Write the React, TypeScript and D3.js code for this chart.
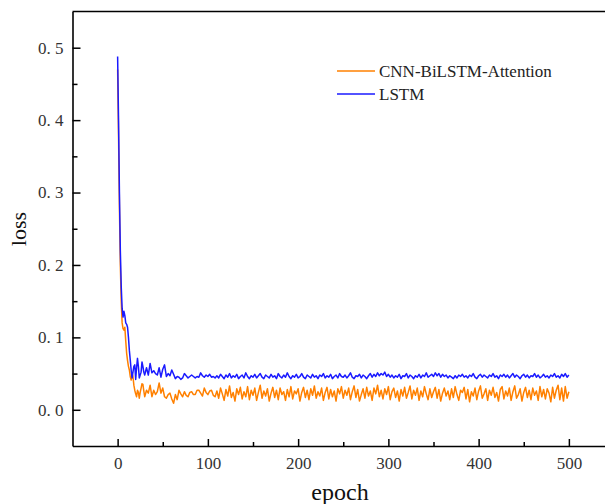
import React, { useEffect, useRef } from 'react';
import * as d3 from 'd3';

// epochs: every epoch for the steep start, every 2nd epoch after that
const epochs = [...d3.range(0, 31), ...d3.range(32, 501, 2)];

const lstmLoss = [
  0.488, 0.40, 0.30, 0.22, 0.17, 0.14, 0.128, 0.136, 0.130, 0.120,
  0.118, 0.114, 0.100, 0.082, 0.069, 0.055, 0.044, 0.052, 0.060, 0.062,
  0.042, 0.058, 0.071, 0.060, 0.044, 0.048, 0.052, 0.066, 0.060, 0.052,
  0.048,
  0.058, 0.048, 0.064, 0.051, 0.054, 0.050, 0.048, 0.058, 0.045, 0.056,
  0.062, 0.046, 0.050, 0.047, 0.055, 0.049, 0.043, 0.046, 0.045, 0.042,
  0.044, 0.050, 0.047, 0.044, 0.046, 0.048, 0.046, 0.044, 0.046, 0.045,
  0.051, 0.047, 0.045, 0.048, 0.046, 0.049, 0.045, 0.046, 0.044,
  0.047, 0.044, 0.049, 0.046, 0.043, 0.048, 0.045, 0.050, 0.044, 0.047,
  0.045, 0.049, 0.043, 0.046, 0.048, 0.044, 0.051, 0.046, 0.043, 0.047,
  0.045, 0.049, 0.044, 0.047, 0.050, 0.045, 0.043, 0.048, 0.046, 0.044,
  0.049, 0.045, 0.047, 0.043, 0.050, 0.046, 0.044, 0.048, 0.045, 0.051,
  0.046, 0.043, 0.047, 0.045, 0.049, 0.044, 0.046, 0.050, 0.045, 0.043,
  0.048, 0.046, 0.044, 0.049, 0.045, 0.047, 0.043, 0.048, 0.046, 0.050,
  0.044, 0.047, 0.045, 0.049, 0.043, 0.046, 0.048, 0.044, 0.050, 0.046,
  0.045, 0.048, 0.044, 0.047, 0.051, 0.045, 0.043, 0.047, 0.046, 0.049,
  0.044, 0.048, 0.046, 0.043, 0.047, 0.050, 0.045, 0.049, 0.046, 0.051,
  0.047, 0.050, 0.048, 0.052, 0.046, 0.049, 0.045, 0.048, 0.044, 0.047,
  0.045, 0.049, 0.043, 0.047, 0.046, 0.050, 0.044, 0.048, 0.046, 0.043,
  0.047, 0.045, 0.049, 0.044, 0.048, 0.046, 0.051, 0.045, 0.047, 0.049,
  0.046, 0.051, 0.047, 0.050, 0.045, 0.049, 0.046, 0.048, 0.044, 0.047,
  0.045, 0.043, 0.047, 0.044, 0.048, 0.046, 0.049, 0.045, 0.047, 0.044,
  0.048, 0.046, 0.050, 0.045, 0.043, 0.047, 0.049, 0.045, 0.048, 0.046,
  0.044, 0.048, 0.046, 0.050, 0.045, 0.047, 0.043, 0.048, 0.046, 0.049,
  0.045, 0.048, 0.044, 0.047, 0.050, 0.045, 0.048, 0.046, 0.043, 0.047,
  0.049, 0.045, 0.048, 0.044, 0.047, 0.046, 0.050, 0.045, 0.048, 0.044,
  0.046, 0.049, 0.045, 0.047, 0.044, 0.048, 0.046, 0.050, 0.045, 0.047,
  0.044, 0.049, 0.046, 0.050, 0.045, 0.048,
];

const cnnLoss = [
  0.470, 0.38, 0.28, 0.20, 0.15, 0.12, 0.112, 0.110, 0.114, 0.095,
  0.078, 0.068, 0.060, 0.055, 0.046, 0.041, 0.050, 0.046, 0.034, 0.027,
  0.022, 0.018, 0.027, 0.024, 0.016, 0.024, 0.030, 0.036, 0.035, 0.026,
  0.018,
  0.027, 0.023, 0.034, 0.018, 0.027, 0.021, 0.025, 0.037, 0.023, 0.030,
  0.018, 0.016, 0.021, 0.023, 0.015, 0.009, 0.021, 0.014, 0.027, 0.022,
  0.018, 0.025, 0.020, 0.018, 0.024, 0.025, 0.021, 0.021, 0.027, 0.027,
  0.023, 0.019, 0.030, 0.024, 0.021, 0.026, 0.027, 0.020, 0.018,
  0.026, 0.016, 0.030, 0.022, 0.013, 0.028, 0.019, 0.033, 0.017, 0.024,
  0.012, 0.029, 0.021, 0.031, 0.015, 0.025, 0.018, 0.032, 0.014, 0.027,
  0.020, 0.030, 0.013, 0.024, 0.034, 0.016, 0.026, 0.019, 0.029, 0.012,
  0.023, 0.031, 0.017, 0.027, 0.014, 0.030, 0.021, 0.025, 0.013, 0.028,
  0.018, 0.032, 0.015, 0.026, 0.022, 0.029, 0.012, 0.024, 0.031, 0.017,
  0.027, 0.014, 0.029, 0.020, 0.033, 0.016, 0.025, 0.019, 0.030, 0.013,
  0.024, 0.031, 0.015, 0.028, 0.018, 0.026, 0.012, 0.029, 0.022, 0.032,
  0.016, 0.027, 0.020, 0.030, 0.014, 0.025, 0.033, 0.017, 0.028, 0.012,
  0.021, 0.029, 0.016, 0.031, 0.019, 0.026, 0.013, 0.030, 0.022, 0.034,
  0.018, 0.027, 0.015, 0.029, 0.021, 0.032, 0.014, 0.025, 0.030, 0.017,
  0.026, 0.012, 0.028, 0.019, 0.031, 0.016, 0.024, 0.033, 0.015, 0.027,
  0.020, 0.030, 0.013, 0.026, 0.018, 0.032, 0.022, 0.014, 0.029, 0.017,
  0.025, 0.031, 0.016, 0.028, 0.012, 0.023, 0.030, 0.019, 0.026, 0.014,
  0.029, 0.017, 0.032, 0.021, 0.013, 0.027, 0.024, 0.031, 0.015, 0.028,
  0.011, 0.025, 0.019, 0.030, 0.014, 0.026, 0.033, 0.016, 0.022, 0.029,
  0.013, 0.027, 0.020, 0.031, 0.017, 0.024, 0.012, 0.028, 0.032, 0.015,
  0.026, 0.019, 0.030, 0.013, 0.025, 0.033, 0.016, 0.021, 0.029, 0.012,
  0.024, 0.031, 0.017, 0.027, 0.014, 0.030, 0.020, 0.026, 0.013, 0.032,
  0.018, 0.028, 0.015, 0.029, 0.023, 0.011, 0.031, 0.016, 0.027, 0.034,
  0.014, 0.030, 0.012, 0.032, 0.016, 0.025,
];

const seriesNames = ['CNN-BiLSTM-Attention', 'LSTM'];
const seriesColors = ['#ff8000', '#1a1aff'];
const xTicks = [0, 100, 200, 300, 400, 500];
const xMinorTicks = [50, 150, 250, 350, 450];
const yTicks = [0, 0.1, 0.2, 0.3, 0.4, 0.5];
const yMinorTicks = [0.05, 0.15, 0.25, 0.35, 0.45];

const W = 605;
const H = 504;
const left = 72.5;
const top = 11.5;
const bottom = 446;
const font = '"Liberation Serif", "DejaVu Serif", serif';

export default function App() {
  const ref = useRef<SVGSVGElement>(null);

  useEffect(() => {
    const svg = d3.select(ref.current);
    svg.selectAll('*').remove();

    const x = d3.scaleLinear().domain([-50, 550]).range([left, 614]);
    const y = d3.scaleLinear().domain([-0.05, 0.55]).range([bottom, top]);
    const fmt = (d: any) => d3.format('.1f')(d).replace('.', '. ');

    // lines first, axes on top
    const line = d3
      .line<number>()
      .x((d, i) => x(epochs[i]))
      .y((d) => y(d));
    [cnnLoss, lstmLoss].forEach((vals, i) => {
      svg
        .append('path')
        .datum(vals)
        .attr('d', line)
        .attr('fill', 'none')
        .attr('stroke', seriesColors[i])
        .attr('stroke-width', 1.5)
        .attr('stroke-linejoin', 'round');
    });

    const gx = svg.append('g').attr('transform', `translate(0,${bottom})`);
    gx.call(d3.axisBottom(x).tickValues(xTicks).tickSize(-7).tickSizeOuter(0).tickPadding(11));
    const gxm = svg.append('g').attr('transform', `translate(0,${bottom})`);
    gxm.call(d3.axisBottom(x).tickValues(xMinorTicks).tickSize(-4).tickFormat(() => ''));
    gxm.select('.domain').remove();

    const gy = svg.append('g').attr('transform', `translate(${left},0)`);
    gy.call(d3.axisLeft(y).tickValues(yTicks).tickSize(-8).tickSizeOuter(0).tickPadding(9).tickFormat(fmt));
    const gym = svg.append('g').attr('transform', `translate(${left},0)`);
    gym.call(d3.axisLeft(y).tickValues(yMinorTicks).tickSize(-5).tickFormat(() => ''));
    gym.select('.domain').remove();

    svg.selectAll('.domain').attr('stroke', '#000').attr('stroke-width', 1.6);
    svg.selectAll('.tick line').attr('stroke', '#000').attr('stroke-width', 1.5);
    svg
      .selectAll('.tick text')
      .attr('fill', '#333')
      .style('font-family', font)
      .style('font-size', '17px');

    svg
      .append('line')
      .attr('x1', left)
      .attr('x2', W)
      .attr('y1', top)
      .attr('y2', top)
      .attr('stroke', '#000')
      .attr('stroke-width', 1.6);

    svg
      .append('text')
      .attr('x', 340)
      .attr('y', 500)
      .attr('text-anchor', 'middle')
      .attr('fill', '#111')
      .style('font-family', font)
      .style('font-size', '24px')
      .text('epoch');

    svg
      .append('text')
      .attr('transform', 'translate(26,229) rotate(-90)')
      .attr('text-anchor', 'middle')
      .attr('fill', '#111')
      .style('font-family', font)
      .style('font-size', '22px')
      .text('loss');

    const legend = svg.append('g').attr('transform', 'translate(337,71)');
    seriesNames.forEach((name, i) => {
      const row = legend.append('g').attr('transform', `translate(0,${i * 23})`);
      row
        .append('line')
        .attr('x1', 0)
        .attr('x2', 38)
        .attr('stroke', seriesColors[i])
        .attr('stroke-width', 1.5);
      row
        .append('text')
        .attr('x', 42)
        .attr('y', 5.5)
        .attr('fill', '#222')
        .style('font-family', font)
        .style('font-size', '17px')
        .text(name);
    });
  }, []);

  return (
    <svg
      ref={ref}
      width={W}
      height={H}
      style={{ position: 'absolute', left: 0, top: 0, background: '#fff' }}
    />
  );
}
